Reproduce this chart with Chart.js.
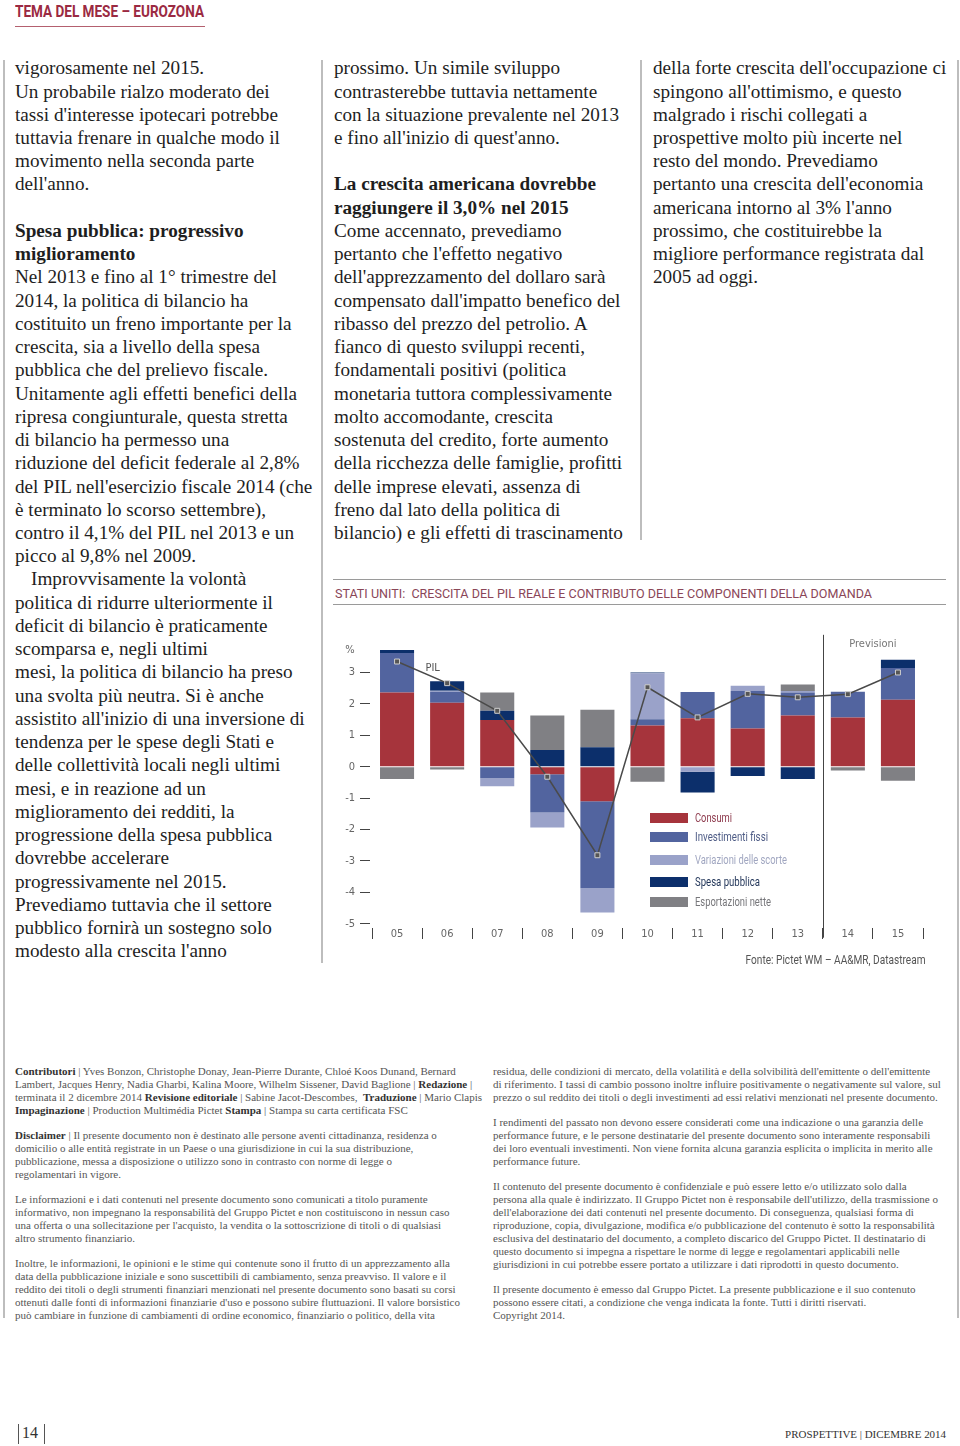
<!DOCTYPE html>
<html lang="it">
<head>
<meta charset="utf-8">
<title>Stati Uniti: crescita del PIL reale</title>
<script src="https://cdn.jsdelivr.net/npm/chart.js@4.4.1/dist/chart.umd.min.js"></script>
<style>
  html, body { margin: 0; padding: 0; background: #fff; }
  body { position: relative; width: 960px; height: 1446px; overflow: hidden; }
  .abs { position: absolute; }
  .fit { display: inline-block; white-space: nowrap; transform-origin: left center; }
  .fit.r { transform-origin: right center; }
  .vline { position: absolute; width: 1.5px; background: #bdbdbd; }
  .hline { position: absolute; height: 1px; background: #9a9a9a; }
  .col { position: absolute; top: 56.3px; font-family: 'Liberation Serif', serif; font-size: 19.2px;
         line-height: 23.24px; color: #1e1e1e; white-space: nowrap; }
  .col b { font-weight: bold; }
  .cond { font-family: Roboto, sans-serif; }
  .foot { position: absolute; top: 1065px; font-family: 'Liberation Serif', serif; font-size: 11px;
          line-height: 13px; color: #555; white-space: nowrap; }
  .foot p { margin: 0 0 12px 0; }
  .foot b { color: #333; }
  .leg { position: absolute; left: 650px; width: 38px; height: 10px; }
  .legt { position: absolute; left: 695px; font-family: Roboto, sans-serif; font-size: 12.5px; line-height: 14px; }
</style>
</head>
<body>

<!-- testata -->
<div class="abs cond" style="left:15px; top:2px; line-height:20px;">
  <span class="fit" data-w="189" style="font-size:16.5px; font-weight:bold; color:#9b2a42;">TEMA DEL MESE – EUROZONA</span>
</div>
<div class="abs" style="left:15px; top:25.5px; width:190px; height:1.5px; background:#b4606f;"></div>

<!-- filetti delle colonne -->
<div class="vline" style="left:3px; top:60px; height:1258px;"></div>
<div class="vline" style="left:321px; top:60px; height:903px;"></div>
<div class="vline" style="left:640px; top:60px; height:480px;"></div>
<div class="vline" style="left:957px; top:60px; height:1258px;"></div>

<div class="col" style="left:15px;">
  <div>vigorosamente nel 2015.</div>
  <div>Un probabile rialzo moderato dei</div>
  <div>tassi d'interesse ipotecari potrebbe</div>
  <div>tuttavia frenare in qualche modo il</div>
  <div>movimento nella seconda parte</div>
  <div>dell'anno.</div>
  <div>&nbsp;</div>
  <div><b>Spesa pubblica: progressivo</b></div>
  <div><b>miglioramento</b></div>
  <div>Nel 2013 e fino al 1° trimestre del</div>
  <div>2014, la politica di bilancio ha</div>
  <div>costituito un freno importante per la</div>
  <div>crescita, sia a livello della spesa</div>
  <div>pubblica che del prelievo fiscale.</div>
  <div>Unitamente agli effetti benefici della</div>
  <div>ripresa congiunturale, questa stretta</div>
  <div>di bilancio ha permesso una</div>
  <div>riduzione del deficit federale al 2,8%</div>
  <div>del PIL nell'esercizio fiscale 2014 (che</div>
  <div>è terminato lo scorso settembre),</div>
  <div>contro il 4,1% del PIL nel 2013 e un</div>
  <div>picco al 9,8% nel 2009.</div>
  <div style="padding-left:16px;">Improvvisamente la volontà</div>
  <div>politica di ridurre ulteriormente il</div>
  <div>deficit di bilancio è praticamente</div>
  <div>scomparsa e, negli ultimi</div>
  <div>mesi, la politica di bilancio ha preso</div>
  <div>una svolta più neutra. Si è anche</div>
  <div>assistito all'inizio di una inversione di</div>
  <div>tendenza per le spese degli Stati e</div>
  <div>delle collettività locali negli ultimi</div>
  <div>mesi, e in reazione ad un</div>
  <div>miglioramento dei redditi, la</div>
  <div>progressione della spesa pubblica</div>
  <div>dovrebbe accelerare</div>
  <div>progressivamente nel 2015.</div>
  <div>Prevediamo tuttavia che il settore</div>
  <div>pubblico fornirà un sostegno solo</div>
  <div>modesto alla crescita l'anno</div>
</div>

<div class="col" style="left:334px;">
  <div>prossimo. Un simile sviluppo</div>
  <div>contrasterebbe tuttavia nettamente</div>
  <div>con la situazione prevalente nel 2013</div>
  <div>e fino all'inizio di quest'anno.</div>
  <div>&nbsp;</div>
  <div><b>La crescita americana dovrebbe</b></div>
  <div><b>raggiungere il 3,0% nel 2015</b></div>
  <div>Come accennato, prevediamo</div>
  <div>pertanto che l'effetto negativo</div>
  <div>dell'apprezzamento del dollaro sarà</div>
  <div>compensato dall'impatto benefico del</div>
  <div>ribasso del prezzo del petrolio. A</div>
  <div>fianco di questo sviluppi recenti,</div>
  <div>fondamentali positivi (politica</div>
  <div>monetaria tuttora complessivamente</div>
  <div>molto accomodante, crescita</div>
  <div>sostenuta del credito, forte aumento</div>
  <div>della ricchezza delle famiglie, profitti</div>
  <div>delle imprese elevati, assenza di</div>
  <div>freno dal lato della politica di</div>
  <div>bilancio) e gli effetti di trascinamento</div>
</div>

<div class="col" style="left:653px;">
  <div>della forte crescita dell'occupazione ci</div>
  <div>spingono all'ottimismo, e questo</div>
  <div>malgrado i rischi collegati a</div>
  <div>prospettive molto più incerte nel</div>
  <div>resto del mondo. Prevediamo</div>
  <div>pertanto una crescita dell'economia</div>
  <div>americana intorno al 3% l'anno</div>
  <div>prossimo, che costituirebbe la</div>
  <div>migliore performance registrata dal</div>
  <div>2005 ad oggi.</div>
</div>

<!-- titolo del grafico -->
<div class="hline" style="left:333px; top:579px; width:613px;"></div>
<div class="abs cond" style="left:335px; top:586px; line-height:14px;">
  <span class="fit" data-w="537" style="font-size:13px; color:#8a4658;">STATI UNITI:&nbsp; CRESCITA DEL PIL REALE E CONTRIBUTO DELLE COMPONENTI DELLA DOMANDA</span>
</div>
<div class="hline" style="left:333px; top:604px; width:613px;"></div>

<div class="abs" style="left:330px; top:612px; width:622px; height:346px;">
  <canvas id="pilChart"></canvas>
</div>

<!-- legenda -->
<div class="leg" style="top:813px; background:#a6343c;"></div>
<div class="leg" style="top:832px; background:#52649f;"></div>
<div class="leg" style="top:855px; background:#9aa2c9;"></div>
<div class="leg" style="top:877px; background:#0c2f6b;"></div>
<div class="leg" style="top:897px; background:#808084;"></div>
<div class="legt" style="top:811px;"><span class="fit" data-w="37" style="color:#8e3b4e;">Consumi</span></div>
<div class="legt" style="top:830px;"><span class="fit" data-w="73" style="color:#4d5b85;">Investimenti fissi</span></div>
<div class="legt" style="top:853px;"><span class="fit" data-w="92" style="color:#a0a6c0;">Variazioni delle scorte</span></div>
<div class="legt" style="top:875px;"><span class="fit" data-w="65" style="color:#1f3357;">Spesa pubblica</span></div>
<div class="legt" style="top:895px;"><span class="fit" data-w="76" style="color:#76767a;">Esportazioni nette</span></div>

<div class="abs cond" style="right:34px; top:951px; line-height:16px; text-align:right;">
  <span class="fit r" data-w="180" style="font-size:13px; color:#555;">Fonte: Pictet WM – AA&amp;MR, Datastream</span>
</div>

<!-- note legali -->
<div class="foot" style="left:15px;">
  <p><b>Contributori</b> | Yves Bonzon, Christophe Donay, Jean-Pierre Durante, Chloé Koos Dunand, Bernard<br>
  Lambert, Jacques Henry, Nadia Gharbi, Kalina Moore, Wilhelm Sissener, David Baglione | <b>Redazione</b> |<br>
  terminata il 2 dicembre 2014 <b>Revisione editoriale</b> | Sabine Jacot-Descombes, &nbsp;<b>Traduzione</b> | Mario Clapis<br>
  <b>Impaginazione</b> | Production Multimédia Pictet <b>Stampa</b> | Stampa su carta certificata FSC</p>
  <p><b>Disclaimer</b> | Il presente documento non è destinato alle persone aventi cittadinanza, residenza o<br>
  domicilio o alle entità registrate in un Paese o una giurisdizione in cui la sua distribuzione,<br>
  pubblicazione, messa a disposizione o utilizzo sono in contrasto con norme di legge o<br>
  regolamentari in vigore.</p>
  <p>Le informazioni e i dati contenuti nel presente documento sono comunicati a titolo puramente<br>
  informativo, non impegnano la responsabilità del Gruppo Pictet e non costituiscono in nessun caso<br>
  una offerta o una sollecitazione per l'acquisto, la vendita o la sottoscrizione di titoli o di qualsiasi<br>
  altro strumento finanziario.</p>
  <p>Inoltre, le informazioni, le opinioni e le stime qui contenute sono il frutto di un apprezzamento alla<br>
  data della pubblicazione iniziale e sono suscettibili di cambiamento, senza preavviso. Il valore e il<br>
  reddito dei titoli o degli strumenti finanziari menzionati nel presente documento sono basati su corsi<br>
  ottenuti dalle fonti di informazioni finanziarie d'uso e possono subire fluttuazioni. Il valore borsistico<br>
  può cambiare in funzione di cambiamenti di ordine economico, finanziario o politico, della vita</p>
</div>

<div class="foot" style="left:493px;">
  <p>residua, delle condizioni di mercato, della volatilità e della solvibilità dell'emittente o dell'emittente<br>
  di riferimento. I tassi di cambio possono inoltre influire positivamente o negativamente sul valore, sul<br>
  prezzo o sul reddito dei titoli o degli investimenti ad essi relativi menzionati nel presente documento.</p>
  <p>I rendimenti del passato non devono essere considerati come una indicazione o una garanzia delle<br>
  performance future, e le persone destinatarie del presente documento sono interamente responsabili<br>
  dei loro eventuali investimenti. Non viene fornita alcuna garanzia esplicita o implicita in merito alle<br>
  performance future.</p>
  <p>Il contenuto del presente documento è confidenziale e può essere letto e/o utilizzato solo dalla<br>
  persona alla quale è indirizzato. Il Gruppo Pictet non è responsabile dell'utilizzo, della trasmissione o<br>
  dell'elaborazione dei dati contenuti nel presente documento. Di conseguenza, qualsiasi forma di<br>
  riproduzione, copia, divulgazione, modifica e/o pubblicazione del contenuto è sotto la responsabilità<br>
  esclusiva del destinatario del documento, a completo discarico del Gruppo Pictet. Il destinatario di<br>
  questo documento si impegna a rispettare le norme di legge e regolamentari applicabili nelle<br>
  giurisdizioni in cui potrebbe essere portato a utilizzare i dati riprodotti in questo documento.</p>
  <p>Il presente documento è emesso dal Gruppo Pictet. La presente pubblicazione e il suo contenuto<br>
  possono essere citati, a condizione che venga indicata la fonte. Tutti i diritti riservati.<br>
  Copyright 2014.</p>
</div>

<!-- piede di pagina -->
<div class="abs" style="left:18px; top:1424px; width:1px; height:20px; background:#555;"></div>
<div class="abs" style="left:22px; top:1423px; font-family:'Liberation Serif', serif; font-size:16px; line-height:20px; color:#333;">14</div>
<div class="abs" style="left:44px; top:1424px; width:1px; height:20px; background:#555;"></div>
<div class="abs" style="right:14px; top:1426px; font-family:'Liberation Serif', serif; line-height:14px; text-align:right;">
  <span class="fit r" data-w="161" style="font-size:10.5px; color:#333;">PROSPETTIVE | DICEMBRE 2014</span>
</div>

<script>
  // Anni e contributi alla crescita del PIL (punti percentuali)
  const anni = ["05", "06", "07", "08", "09", "10", "11", "12", "13", "14", "15"];
  const consumi = [2.36, 2.04, 1.49, -0.24, -1.10, 1.31, 1.54, 1.22, 1.63, 1.57, 2.13];
  const investimentiFissi = [1.26, 0.35, -0.37, -1.22, -2.77, 0.20, 0.84, 1.19, 0.73, 0.82, 1.01];
  const variazioniScorte = [0, 0.03, -0.25, -0.48, -0.77, 1.47, -0.16, 0.17, 0.05, 0, 0];
  const spesaPubblica = [0.10, 0.30, 0.29, 0.53, 0.62, 0.02, -0.66, -0.30, -0.39, -0.02, 0.27];
  const esportazioniNette = [-0.39, -0.09, 0.58, 1.10, 1.19, -0.48, 0, 0, 0.21, -0.10, -0.45];
  const pil = [3.35, 2.66, 1.78, -0.32, -2.82, 2.53, 1.57, 2.32, 2.21, 2.31, 3.00];
  const tickY = [-5, -4, -3, -2, -1, 0, 1, 2, 3];
  const inizioPrevisioni = 9; // indice del 2014

  const tickFont = { family: "'DejaVu Sans Condensed', 'Liberation Sans Narrow', Roboto, sans-serif", size: 11 };

  // adatta la larghezza dei testi condensati
  document.querySelectorAll(".fit[data-w]").forEach(el => {
    const w = el.getBoundingClientRect().width;
    if (w > 0) el.style.transform = "scaleX(" + (parseFloat(el.dataset.w) / w) + ")";
  });

  // Plugin: linea delle previsioni e testi annessi
  const annotazioni = {
    id: "annotazioni",
    afterDatasetsDraw(chart) {
      const { ctx, scales: { x, y }, chartArea } = chart;
      const xPrev = (x.getPixelForValue(inizioPrevisioni - 1) + x.getPixelForValue(inizioPrevisioni)) / 2;
      ctx.save();
      ctx.strokeStyle = "#444";
      ctx.lineWidth = 1;
      ctx.beginPath();
      ctx.moveTo(Math.round(xPrev) + 0.5, y.getPixelForValue(4.2));
      ctx.lineTo(Math.round(xPrev) + 0.5, chartArea.bottom + 14);
      ctx.stroke();

      ctx.font = "11px " + tickFont.family;
      ctx.textAlign = "center";
      ctx.textBaseline = "middle";
      ctx.fillStyle = "#777";
      const xTesto = (x.getPixelForValue(inizioPrevisioni) + x.getPixelForValue(inizioPrevisioni + 1)) / 2;
      ctx.fillText("Previsioni", xTesto, y.getPixelForValue(3.9));
      ctx.fillStyle = "#555";
      ctx.fillText("PIL", x.getPixelForValue(0.71), y.getPixelForValue(3.14));
      ctx.fillStyle = "#666";
      ctx.fillText("%", chartArea.left - 22, y.getPixelForValue(3.72));
      ctx.restore();
    }
  };

  function serie(label, data, colore) {
    return {
      type: "bar",
      label: label,
      data: data,
      backgroundColor: colore,
      borderWidth: 0,
      stack: "componenti",
      order: 1,
      barPercentage: 0.68,
      categoryPercentage: 1
    };
  }

  new Chart(document.getElementById("pilChart"), {
    data: {
      labels: anni,
      datasets: [
        {
          type: "line",
          label: "PIL",
          data: pil,
          stack: "pil",
          order: 0,
          borderColor: "#4a4a4a",
          borderWidth: 1.5,
          pointStyle: "rect",
          pointRadius: 3.5,
          pointBackgroundColor: "#555",
          pointBorderColor: "#cfcfcf",
          pointBorderWidth: 1,
          tension: 0
        },
        serie("Consumi", consumi, "#a6343c"),
        serie("Investimenti fissi", investimentiFissi, "#52649f"),
        serie("Variazioni delle scorte", variazioniScorte, "#9aa2c9"),
        serie("Spesa pubblica", spesaPubblica, "#0c2f6b"),
        serie("Esportazioni nette", esportazioniNette, "#808084")
      ]
    },
    options: {
      responsive: true,
      maintainAspectRatio: false,
      animation: false,
      layout: { padding: { top: 13.4, right: 29, left: 0, bottom: 0 } },
      plugins: {
        legend: { display: false },
        tooltip: { enabled: false }
      },
      scales: {
        x: {
          stacked: true,
          border: { display: false },
          grid: {
            offset: true,
            drawOnChartArea: false,
            drawTicks: true,
            tickLength: 16,
            tickColor: "#444",
            tickBorderDash: [0, 4, 11, 100]
          },
          ticks: { color: "#666", font: tickFont, padding: -12, autoSkip: false, maxRotation: 0 },
          afterFit(scale) { scale.height = 34.3; }
        },
        y: {
          stacked: true,
          min: -5,
          max: 4.5,
          border: { display: false },
          grid: {
            drawOnChartArea: false,
            drawTicks: true,
            tickLength: 12,
            tickColor: "#444",
            tickBorderDash: [10, 100]
          },
          ticks: { color: "#666", font: tickFont, padding: 5 },
          afterBuildTicks(scale) { scale.ticks = tickY.map(v => ({ value: v })); },
          afterFit(scale) { scale.width = 42; }
        }
      }
    },
    plugins: [annotazioni]
  });
</script>
</body>
</html>
